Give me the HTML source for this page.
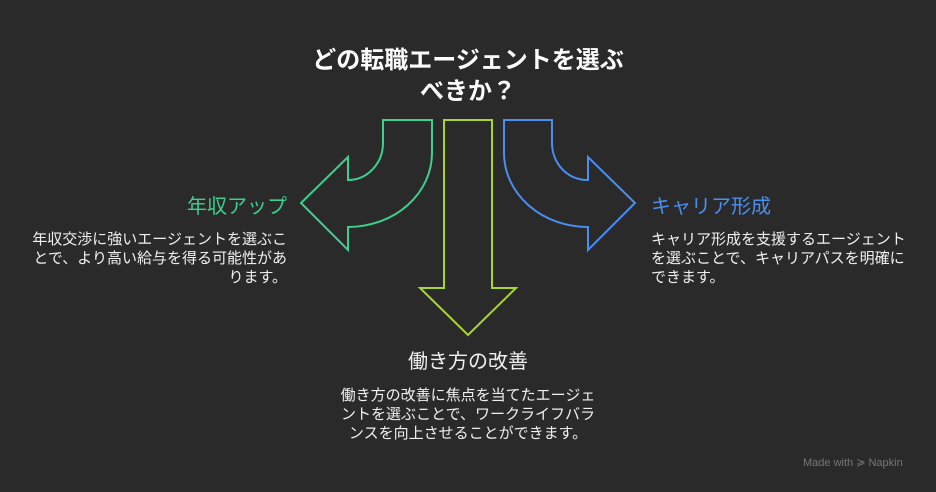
<!DOCTYPE html>
<html><head><meta charset="utf-8"><style>
body{margin:0;background:#2a2a2a;}
.c{position:relative;width:936px;height:492px;overflow:hidden;background:#2a2a2a;font-family:"Liberation Sans","Noto Sans CJK JP",sans-serif;color:#f0f0f0;}
.t{position:absolute;white-space:nowrap;}
.d{font-size:15px;line-height:19px;}
</style></head><body><div class="c">
<svg width="936" height="492" style="position:absolute;left:0;top:0" fill="none" stroke-width="2" stroke-linejoin="miter">
<path d="M383,120 L432,120 L432,153 A84,74 0 0 1 348,227 L348,250 L301,203 L348,157 L348,180 A35,37 0 0 0 383,143 Z" stroke="#3ecf8e"/>
<path d="M444,120 L492,120 L492,288 L516,288 L468,335 L420,288 L444,288 Z" stroke="#a8d630"/>
<path d="M552,120 L504,120 L504,153 A84,74 0 0 0 588,227 L588,250 L635,203 L588,157 L588,180 A35,37 0 0 1 552,143 Z" stroke="#4a8ef0"/>
</svg>
<div class="t" style="left:0;width:936px;top:45px;text-align:center;font-size:24px;font-weight:bold;line-height:31px;color:#fff">どの転職エージェントを選ぶ<br>べきか？</div>
<div class="t" style="right:649px;top:190px;font-size:20px;color:#3ecf8e">年収アップ</div>
<div class="t d" style="right:649px;top:230px;text-align:right">年収交渉に強いエージェントを選ぶこ<br>とで、より高い給与を得る可能性があ<br>ります。</div>
<div class="t" style="left:651px;top:190px;font-size:20px;color:#4a8ef0">キャリア形成</div>
<div class="t d" style="left:651px;top:230px">キャリア形成を支援するエージェント<br>を選ぶことで、キャリアパスを明確に<br>できます。</div>
<div class="t" style="left:0;width:936px;top:345px;text-align:center;font-size:20px">働き方の改善</div>
<div class="t d" style="left:0;width:936px;top:386px;text-align:center">働き方の改善に焦点を当てたエージェ<br>ントを選ぶことで、ワークライフバラ<br>ンスを向上させることができます。</div>
<div class="t" style="left:803px;top:456px;font-size:11px;color:#777">Made with ≽ Napkin</div>
</div></body></html>
